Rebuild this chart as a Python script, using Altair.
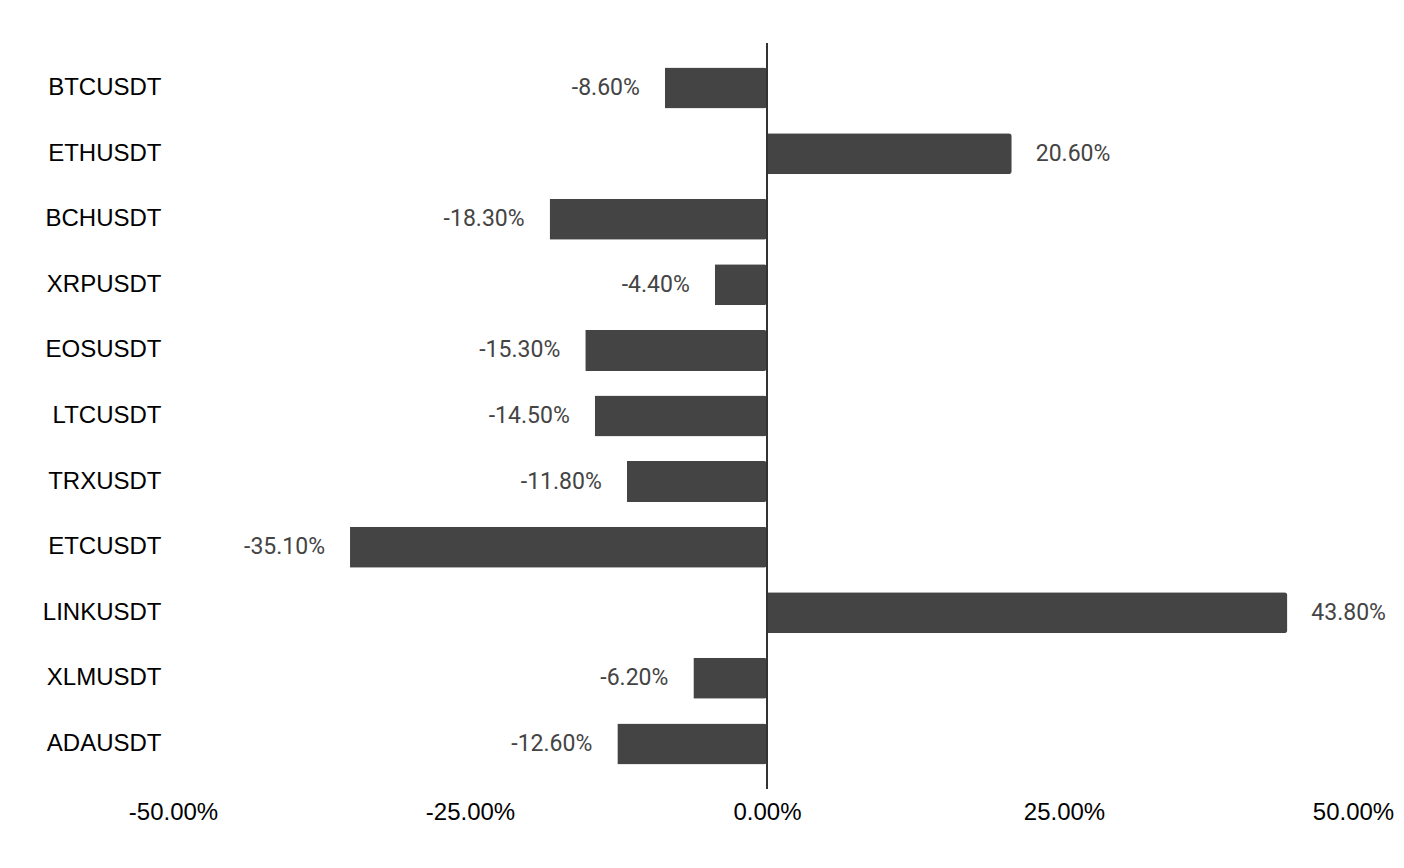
import altair as alt
import pandas as pd

symbols = ["BTCUSDT", "ETHUSDT", "BCHUSDT", "XRPUSDT", "EOSUSDT", "LTCUSDT",
           "TRXUSDT", "ETCUSDT", "LINKUSDT", "XLMUSDT", "ADAUSDT"]
changes_pct = [-8.6, 20.6, -18.3, -4.4, -15.3, -14.5, -11.8, -35.1, 43.8, -6.2, -12.6]
x_ticks = [-0.5, -0.25, 0.0, 0.25, 0.5]

df = pd.DataFrame({"symbol": symbols, "pct": changes_pct})
df["frac"] = df["pct"] / 100.0

base = alt.Chart(df).transform_calculate(
    lbl="replace(format(datum.frac, '.2%'), '\u2212', '-')"
)

y_enc = alt.Y(
    "symbol:N",
    sort=symbols,
    title=None,
    scale=alt.Scale(paddingInner=0.375, paddingOuter=0.375),
    axis=alt.Axis(
        ticks=False, domain=False, grid=False,
        labelFont="Liberation Sans", labelFontSize=24, labelColor="#000000",
        labelPadding=12, labelAlign="right",
    ),
)
x_enc = alt.X(
    "frac:Q",
    title=None,
    scale=alt.Scale(domain=[-0.5, 0.5], nice=False, zero=False),
    axis=alt.Axis(
        values=x_ticks, format=".2%", ticks=False, domain=False, grid=False,
        labelExpr="replace(datum.label, '\u2212', '-')",
        labelFont="Liberation Sans", labelFontSize=24, labelColor="#000000",
        labelPadding=11, labelFlush=False, labelBound=False,
        labelOffset={"condition": {"test": "datum.value >= 0.5", "value": -8}, "value": 0},
    ),
)

bars = base.mark_bar(color="#444444", cornerRadiusEnd=3).encode(x=x_enc, y=y_enc)

lbl_font = dict(font="Roboto", fontSize=23, color="#444444", baseline="middle")
pos_labels = base.transform_filter("datum.frac >= 0").mark_text(
    align="left", dx=24, **lbl_font
).encode(
    x=alt.X("frac:Q"), y=alt.Y("symbol:N", sort=symbols),
    text=alt.Text("lbl:N"),
)
neg_labels = base.transform_filter("datum.frac < 0").mark_text(
    align="right", dx=-25, **lbl_font
).encode(
    x=alt.X("frac:Q"), y=alt.Y("symbol:N", sort=symbols),
    text=alt.Text("lbl:N"),
)

zero_line = alt.Chart(pd.DataFrame({"z": [0.0]})).mark_rule(
    color="#333333", strokeWidth=2
).encode(x=alt.X("z:Q"))

chart = alt.layer(bars, zero_line, pos_labels, neg_labels).properties(
    width=1188,
    height=746,
    autosize=alt.AutoSizeParams(type="none"),
    padding={"left": 165, "top": 35, "right": 35, "bottom": 60},
).configure(
    background="#ffffff",
    view=alt.ViewConfig(strokeWidth=0, stroke="transparent"),
)

chart.save("out.html", embed_options={"renderer": "svg", "actions": False})
